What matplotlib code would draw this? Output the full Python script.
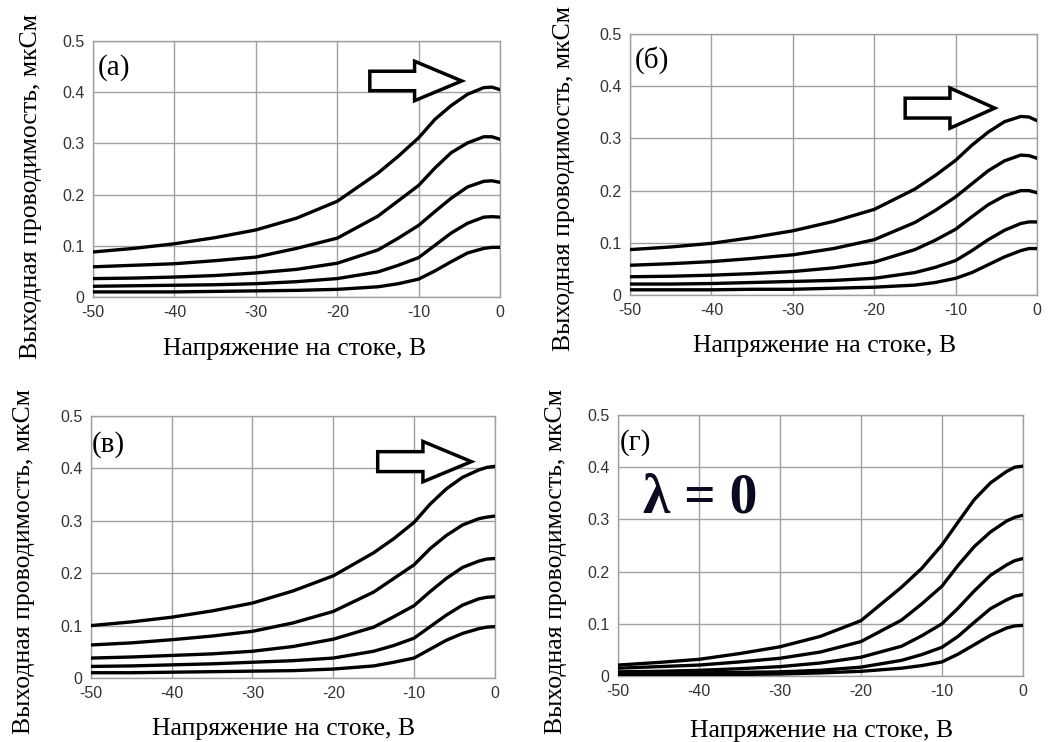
import matplotlib
matplotlib.use('Agg')
import matplotlib.pyplot as plt
from matplotlib.patches import FancyArrow

plt.rcParams['axes.unicode_minus'] = False

# drain voltage, V
vd = [-50, -45, -40, -35, -30, -25, -20, -15, -12.5, -10, -8, -6, -4, -2, -1, 0]

# output conductance, uS; five curves per panel (top to bottom)
g_a = [
    [.088, .095, .104, .116, .131, .154, .187, .242, .275, .311, .347, .374, .396, .409, .410, .405],
    [.059, .062, .065, .071, .078, .095, .115, .158, .188, .218, .252, .282, .301, .313, .313, .308],
    [.036, .037, .039, .042, .047, .054, .066, .092, .115, .140, .167, .193, .215, .226, .227, .224],
    [.021, .022, .023, .024, .026, .030, .036, .049, .062, .077, .101, .125, .144, .156, .157, .156],
    [.010, .010, .010, .011, .012, .013, .015, .020, .026, .035, .051, .069, .086, .095, .097, .097],
]
g_b = [
    [.087, .092, .099, .110, .123, .141, .164, .203, .229, .258, .287, .312, .332, .342, .341, .334],
    [.057, .060, .064, .070, .077, .089, .106, .139, .162, .188, .213, .238, .257, .268, .267, .262],
    [.035, .036, .038, .041, .045, .052, .063, .087, .105, .126, .150, .173, .190, .200, .200, .196],
    [.021, .021, .022, .024, .026, .028, .032, .043, .053, .066, .085, .106, .124, .137, .140, .140],
    [.010, .010, .010, .011, .011, .013, .015, .019, .024, .032, .043, .058, .073, .085, .089, .089],
]
g_c = [
    [.100, .107, .116, .128, .143, .166, .195, .239, .266, .297, .332, .361, .383, .397, .402, .404],
    [.063, .067, .073, .080, .089, .105, .127, .164, .190, .216, .247, .272, .292, .304, .307, .309],
    [.038, .040, .043, .046, .051, .060, .074, .097, .117, .138, .165, .190, .211, .223, .227, .228],
    [.022, .023, .025, .027, .030, .033, .038, .051, .062, .076, .098, .120, .139, .151, .154, .155],
    [.010, .010, .011, .012, .013, .014, .017, .023, .030, .038, .055, .072, .085, .094, .097, .098],
]
g_d = [
    [.021, .026, .032, .043, .056, .076, .106, .170, .206, .251, .295, .338, .370, .392, .400, .402],
    [.015, .018, .021, .027, .034, .046, .066, .107, .138, .172, .212, .248, .276, .297, .304, .308],
    [.008, .009, .011, .014, .018, .025, .036, .057, .077, .100, .130, .163, .193, .213, .221, .225],
    [.005, .005, .006, .007, .008, .011, .017, .030, .041, .055, .076, .103, .129, .146, .153, .156],
    [.002, .002, .003, .003, .004, .006, .009, .015, .020, .027, .042, .060, .078, .092, .096, .097],
]

panel_labels = ['(а)', '(б)', '(в)', '(г)']
xticks = [-50, -40, -30, -20, -10, 0]
yticks = [0, 0.1, 0.2, 0.3, 0.4, 0.5]
yticklabels = ['0', '0.1', '0.2', '0.3', '0.4', '0.5']
xlabel = 'Напряжение на стоке, В'
ylabel = 'Выходная проводимость, мкСм'

# hollow arrows: (start x, tip x, head base x, y)
arrows = [(-16.0, -4.7, -10.5, 0.422), (-16.2, -5.2, -10.7, 0.358),
          (-14.5, -2.9, -8.9, 0.413), None]

fig = plt.figure(figsize=(10.49, 7.42), dpi=100)

boxes = [
    [0.0887, 0.5997, 0.388, 0.345],
    [0.6006, 0.6024, 0.388, 0.3518],
    [0.0867, 0.0863, 0.385, 0.353],
    [0.5891, 0.0889, 0.386, 0.3518],
]
ylab_pos = [(-0.125, 0.43), (-0.135, 0.448), (-0.139, 0.443), (-0.126, 0.44)]
xlab_pos = [(0.496, -0.16), (0.477, -0.153), (0.478, -0.153), (0.504, -0.169)]
plab_pos = [(0.012, 0.95), (0.012, 0.955), (0.002, 0.944), (0.005, 0.948)]

serif = 'Liberation Serif'
sans = 'Liberation Sans'

for i, data in enumerate([g_a, g_b, g_c, g_d]):
    ax = fig.add_axes(boxes[i])
    for curve in data:
        ax.plot(vd, curve, color='black', lw=2.4, solid_joinstyle='round', zorder=3)
    ax.set_xlim(-50, 0)
    ax.set_ylim(0, 0.5)
    ax.set_xticks(xticks)
    ax.set_xticklabels([str(t) for t in xticks], family=sans, fontsize=11.5, color='#333333')
    ax.set_yticks(yticks)
    ax.set_yticklabels(yticklabels, family=sans, fontsize=11.5, color='#333333')
    ax.tick_params(length=0, pad=6)
    ax.grid(True, color='#a0a0a0', lw=1.0)
    for s in ax.spines.values():
        s.set_color('#a0a0a0')
        s.set_linewidth(1.0)
    ax.set_xlabel(xlabel, family=serif, fontsize=18.5)
    ax.set_ylabel(ylabel, family=serif, fontsize=18.5)
    ax.xaxis.set_label_coords(*xlab_pos[i])
    ax.yaxis.set_label_coords(*ylab_pos[i])
    ax.text(plab_pos[i][0], plab_pos[i][1], panel_labels[i], transform=ax.transAxes,
            family=serif, fontsize=21, ha='left', va='top')
    if arrows[i] is not None:
        x0, x1, xh, y = arrows[i]
        ax.add_patch(FancyArrow(x0, y, x1 - x0, 0, width=0.038, head_width=0.077,
                                head_length=x1 - xh, length_includes_head=True,
                                facecolor='white', edgecolor='black', lw=2.5, zorder=4))

# lambda = 0 note in panel (г)
fig.axes[3].text(0.062, 0.625, 'λ = 0', transform=fig.axes[3].transAxes,
                 family=serif, fontsize=40, fontweight='bold', color='#0a0a20',
                 ha='left', va='baseline')

fig.savefig('out.png', dpi=100)
